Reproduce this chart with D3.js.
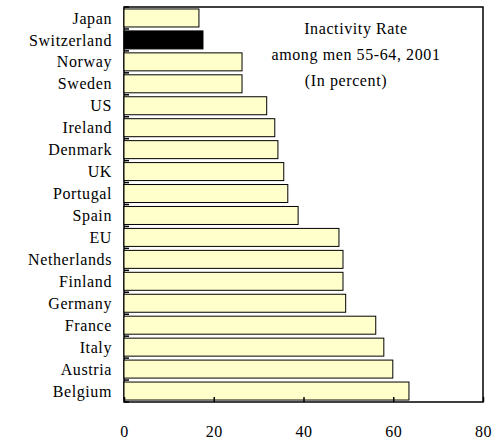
<!DOCTYPE html>
<html><head><meta charset="utf-8">
<script src="https://cdn.jsdelivr.net/npm/d3@7"></script>
<style>body{margin:0;background:#fff} svg text{font-family:"Liberation Serif","DejaVu Serif",serif;}</style>
</head><body><svg id="c" width="494" height="439"></svg>
<script>
const countries=["Japan","Switzerland","Norway","Sweden","US","Ireland","Denmark","UK","Portugal","Spain","EU","Netherlands","Finland","Germany","France","Italy","Austria","Belgium"];
const values=[16.7,17.6,26.3,26.3,31.8,33.6,34.3,35.6,36.5,38.8,47.9,48.8,48.8,49.4,56.1,57.9,59.9,63.5];
const xTicks=[0,20,40,60,80];
const svg=d3.select("#c");
const L=124,R=483,T=7,B=402;
const x=d3.scaleLinear().domain([0,80]).range([L,R]);
const y=d3.scaleBand().domain(countries).range([T,B]).paddingInner(0.18).paddingOuter(0.09);
svg.append("rect").attr("x",L).attr("y",T).attr("width",R-L).attr("height",B-T).attr("fill","none").attr("stroke","#000").attr("stroke-width",1.5);
svg.selectAll(".bar").data(countries).enter().append("rect")
 .attr("x",x(0)).attr("y",d=>y(d)).attr("width",(d,i)=>x(values[i])-x(0)).attr("height",y.bandwidth())
 .attr("fill",d=>d==="Switzerland"?"#000":"#ffffcc").attr("stroke","#000").attr("stroke-width",1);
const step=(B-T)/countries.length;
d3.range(countries.length+1).forEach(i=>{svg.append("line").attr("x1",L).attr("x2",L+5).attr("y1",T+i*step).attr("y2",T+i*step).attr("stroke","#000").attr("stroke-width",1.5);});
svg.selectAll(".lab").data(countries).enter().append("text").attr("x",L-12).attr("y",d=>y(d)+y.bandwidth()/2).attr("dy","0.35em").attr("text-anchor","end")
 .style("font-size","16px").style("letter-spacing","0.6px").text(d=>d);
const xa=svg.append("g").attr("transform",`translate(0,${B})`).call(d3.axisBottom(x).tickValues(xTicks).tickSize(-5).tickPadding(24).tickFormat(d3.format("d")));
xa.select(".domain").remove();
xa.selectAll("line").attr("stroke-width",1.5);
xa.selectAll("text").style("font-size","16px").style("letter-spacing","0.6px").attr("fill","#000");
["Inactivity Rate","among men 55-64, 2001","(In percent)"].forEach((s,i)=>svg.append("text").attr("x",i==2?346:356).attr("y",34+i*26).attr("text-anchor","middle")
 .style("font-size","16px").style("letter-spacing","0.6px").text(s));
</script></body></html>
